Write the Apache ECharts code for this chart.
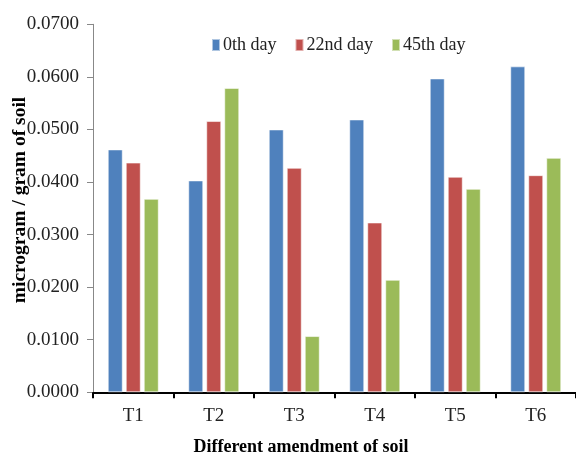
<!DOCTYPE html>
<html>
<head>
<meta charset="utf-8">
<script src="https://cdn.jsdelivr.net/npm/echarts@6/dist/echarts.min.js"></script>
<style>html,body{margin:0;padding:0;background:#fff;}#c{width:576px;height:459px;}</style>
</head>
<body>
<div id="c"></div>
<script>
const categories = ['T1', 'T2', 'T3', 'T4', 'T5', 'T6'];
const seriesNames = ['0th day', '22nd day', '45th day'];
const day0 = [0.0462, 0.0403, 0.0500, 0.0519, 0.0597, 0.0620];
const day22 = [0.0437, 0.0516, 0.0427, 0.0323, 0.0410, 0.0413];
const day45 = [0.0368, 0.0579, 0.0107, 0.0214, 0.0387, 0.0446];
const yTicks = [0, 0.01, 0.02, 0.03, 0.04, 0.05, 0.06, 0.07];
const colors = ['#4F81BD', '#C0504D', '#9BBB59'];
const font = '"Liberation Serif", serif';

const chart = echarts.init(document.getElementById('c'), null, {renderer: 'canvas'});
const values = [day0, day22, day45];
chart.setOption({
  animation: false,
  backgroundColor: '#fff',
  legend: {
    left: 206, top: 31,
    itemWidth: 8, itemHeight: 12, itemGap: 18,
    icon: 'rect',
    textStyle: {fontFamily: font, fontSize: 18, color: '#222', padding: [0, 0, 0, -2]},
    data: seriesNames
  },
  grid: {left: 93, top: 24.3, bottom: 66.7, right: -8, containLabel: false},
  xAxis: {
    type: 'category',
    data: categories,
    axisLine: {lineStyle: {color: '#000', width: 2}},
    axisTick: {show: true, length: 6, lineStyle: {color: '#000', width: 2}},
    axisLabel: {fontFamily: font, fontSize: 19, color: '#222', margin: 14},
    splitLine: {show: false}
  },
  yAxis: {
    type: 'value',
    min: yTicks[0], max: yTicks[yTicks.length - 1], interval: 0.01,
    axisLine: {show: true, lineStyle: {color: '#888', width: 1}},
    axisTick: {show: true, length: 6, lineStyle: {color: '#888'}},
    axisLabel: {fontFamily: font, fontSize: 19, color: '#222', margin: 14,
      formatter: v => v.toFixed(4)},
    splitLine: {show: false}
  },
  graphic: [
    {type: 'text', x: 20, y: 200, rotation: Math.PI / 2,
      style: {text: 'microgram / gram of soil', font: 'bold 19.5px "Liberation Serif"', fill: '#000',
        textAlign: 'center', textVerticalAlign: 'middle'}},
    {type: 'text', x: 301, y: 447,
      style: {text: 'Different amendment of soil', font: 'bold 18px "Liberation Serif"', fill: '#000',
        textAlign: 'center', textVerticalAlign: 'middle'}}
  ],
  series: seriesNames.map((n, i) => ({
    name: n,
    type: 'bar',
    data: values[i],
    barWidth: 15,
    barGap: '20%',
    itemStyle: {color: colors[i], borderColor: 'rgba(255,255,255,0.55)', borderWidth: 1}
  }))
});
</script>
</body>
</html>
